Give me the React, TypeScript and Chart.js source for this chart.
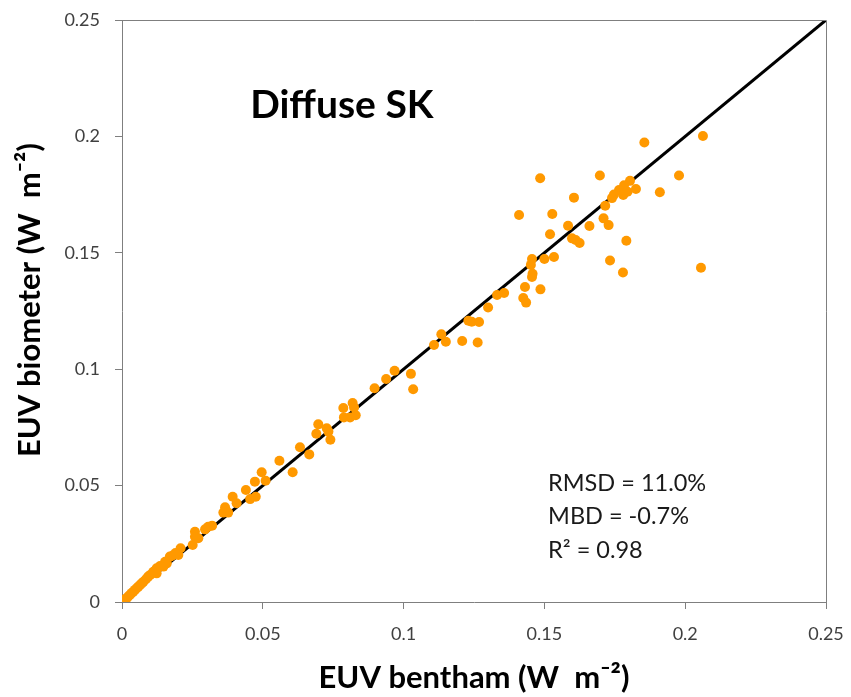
import React, { useEffect, useRef } from "react";
import { Chart, registerables } from "chart.js";

Chart.register(...registerables);

const benthamX = [
  0.2063, 0.1855, 0.1485, 0.1697, 0.1978, 0.1804, 0.1783, 0.1765, 0.1747, 0.174,
  0.1795, 0.1825, 0.178, 0.191, 0.1605, 0.1716, 0.141, 0.1528, 0.171, 0.1728,
  0.1584, 0.166, 0.152, 0.1598, 0.1611, 0.1625, 0.1791, 0.2056, 0.1733, 0.1779,
  0.1456, 0.1452, 0.1458, 0.1456, 0.15, 0.1534, 0.1431, 0.1486, 0.1425, 0.1435,
  0.1332, 0.1357, 0.13, 0.123, 0.1242, 0.1268, 0.1208, 0.1263, 0.115, 0.1134,
  0.1108, 0.0968, 0.0938, 0.1026, 0.1034, 0.0897, 0.0819, 0.0824, 0.0786, 0.0788,
  0.081, 0.083, 0.0697, 0.0727, 0.0733, 0.069, 0.074, 0.0632, 0.0665, 0.0559,
  0.0606, 0.0496, 0.0472, 0.051, 0.044, 0.0393, 0.0407, 0.0455, 0.0475, 0.0366,
  0.036, 0.0377, 0.0306, 0.032, 0.0295, 0.0259, 0.0271, 0.0259, 0.0251, 0.0208,
  0.02, 0.017, 0.0159, 0.0147, 0.0153, 0.0123, 0.0111, 0.0123, 0.0093, 0.0076,
  0.0064, 0.0052, 0.004, 0.0028, 0.0017, 0.0005, 0.001, 0.0022, 0.0034, 0.0046,
  0.0058, 0.007, 0.0085, 0.01, 0.0135, 0.018, 0.019,
];

const biometerY = [
  0.2002, 0.1974, 0.182, 0.1832, 0.1832, 0.1809, 0.179, 0.177, 0.175, 0.1735,
  0.1762, 0.1774, 0.1748, 0.176, 0.1737, 0.1702, 0.1662, 0.1667, 0.1648, 0.1619,
  0.1616, 0.1615, 0.158, 0.1562, 0.1555, 0.1542, 0.1552, 0.1436, 0.1467, 0.1415,
  0.1473, 0.1448, 0.141, 0.1396, 0.1473, 0.1482, 0.1353, 0.1343, 0.1306, 0.1286,
  0.1319, 0.1327, 0.1265, 0.1208, 0.1204, 0.1203, 0.1121, 0.1115, 0.1118, 0.115,
  0.1104, 0.0993, 0.0958, 0.098, 0.0914, 0.0918, 0.0855, 0.0836, 0.0833, 0.0793,
  0.0793, 0.0802, 0.0763, 0.0746, 0.0732, 0.0723, 0.0697, 0.0665, 0.0634, 0.0607,
  0.0557, 0.0557, 0.0517, 0.0521, 0.0481, 0.0452, 0.0424, 0.0442, 0.0452, 0.0407,
  0.0384, 0.0384, 0.0323, 0.0328, 0.0312, 0.0302, 0.0274, 0.028, 0.0245, 0.0231,
  0.0202, 0.0195, 0.0166, 0.0152, 0.0173, 0.0145, 0.013, 0.0123, 0.0109, 0.0087,
  0.0073, 0.0059, 0.0044, 0.003, 0.0016, 0.0006, 0.0012, 0.0024, 0.0038, 0.0052,
  0.0066, 0.008, 0.0098, 0.0116, 0.0155, 0.02, 0.021,
];

const oneToOneX = [0, 0.25];
const oneToOneY = [0, 0.25];

const xTickValues = [0, 0.05, 0.1, 0.15, 0.2, 0.25];
const yTickValues = [0, 0.05, 0.1, 0.15, 0.2, 0.25];

const panelTitle = "Diffuse SK";
const statsLines = ["RMSD = 11.0%", "MBD = -0.7%", "R\u00B2 = 0.98"];
const xAxisTitle = "EUV bentham (W  m\u207B\u00B2)";
const yAxisTitle = "EUV biometer (W  m\u207B\u00B2)";

const FONT = "Lato, 'Noto Sans', sans-serif";

const fmt = (v: number) => String(Number(v.toFixed(2)));

const textPlugin = {
  id: "textPlugin",
  afterDraw(chart: any) {
    const { ctx, chartArea, scales } = chart;
    const xs = scales.x;
    const ys = scales.y;
    ctx.save();
    ctx.strokeStyle = "#7f7f7f";
    ctx.lineWidth = 1;
    ctx.beginPath();
    ctx.moveTo(chartArea.left, chartArea.top + 0.5);
    ctx.lineTo(chartArea.right + 0.5, chartArea.top + 0.5);
    ctx.lineTo(chartArea.right + 0.5, chartArea.bottom);
    ctx.stroke();

    ctx.fillStyle = "#000";
    ctx.textBaseline = "middle";
    ctx.textAlign = "left";
    ctx.font = `bold 39px ${FONT}`;
    ctx.fillText(panelTitle, xs.getPixelForValue(0.0455), ys.getPixelForValue(0.2135));

    ctx.font = `23.5px ${FONT}`;
    ctx.fillStyle = "#1a1a1a";
    const statY = [0.0508, 0.0366, 0.0223];
    statsLines.forEach((t, i) => {
      ctx.fillText(t, xs.getPixelForValue(0.1513), ys.getPixelForValue(statY[i]));
    });

    ctx.fillStyle = "#000";
    ctx.font = `bold 31px ${FONT}`;
    ctx.textAlign = "center";
    ctx.fillText(xAxisTitle, (chartArea.left + chartArea.right) / 2, 678);
    ctx.translate(30, 300);
    ctx.rotate(-Math.PI / 2);
    ctx.fillText(yAxisTitle, 0, 0);
    ctx.restore();
  },
};

export default function App() {
  const ref = useRef<HTMLCanvasElement>(null);
  useEffect(() => {
    if (!ref.current) return;
    const points = benthamX.map((x, i) => ({ x, y: biometerY[i] }));
    const line = oneToOneX.map((x, i) => ({ x, y: oneToOneY[i] }));
    const chart = new Chart(ref.current, {
      type: "scatter",
      data: {
        datasets: [
          {
            label: "data",
            data: points,
            backgroundColor: "#ff9900",
            borderColor: "#ff9900",
            pointRadius: 5,
            pointBorderWidth: 0,
            order: 1,
          },
          {
            type: "line",
            label: "1:1",
            data: line,
            borderColor: "#000",
            borderWidth: 3,
            pointRadius: 0,
            fill: false,
            order: 2,
          } as any,
        ],
      },
      options: {
        animation: false,
        responsive: false,
        layout: { padding: { left: 0, top: 20, right: 25, bottom: 0 } },
        plugins: { legend: { display: false }, tooltip: { enabled: false } },
        scales: {
          x: {
            type: "linear",
            min: 0,
            max: 0.25,
            afterBuildTicks: (s: any) => {
              s.ticks = xTickValues.map((v) => ({ value: v }));
            },
            afterFit: (s: any) => {
              s.height = 95;
              s.paddingLeft = 0;
              s.paddingRight = 0;
            },
            ticks: {
              callback: (v: any) => fmt(Number(v)),
              color: "#404040",
              font: { family: FONT, size: 18 },
              padding: 14,
              maxRotation: 0,
            },
            grid: { drawOnChartArea: false, drawTicks: true, tickLength: 7, color: "#7f7f7f" },
            border: { color: "#7f7f7f" },
          },
          y: {
            type: "linear",
            min: 0,
            max: 0.25,
            afterBuildTicks: (s: any) => {
              s.ticks = yTickValues.map((v) => ({ value: v }));
            },
            afterFit: (s: any) => {
              s.width = 122;
              s.paddingTop = 0;
              s.paddingBottom = 0;
            },
            ticks: {
              callback: (v: any) => fmt(Number(v)),
              color: "#404040",
              font: { family: FONT, size: 18 },
              padding: 15,
            },
            grid: { drawOnChartArea: false, drawTicks: true, tickLength: 7, color: "#7f7f7f" },
            border: { color: "#7f7f7f" },
          },
        },
      },
      plugins: [textPlugin],
    });
    return () => chart.destroy();
  }, []);
  return (
    <div style={{ position: "absolute", left: 0, top: 0, width: 851, height: 697, background: "#fff" }}>
      <canvas ref={ref} width={851} height={697} />
    </div>
  );
}
